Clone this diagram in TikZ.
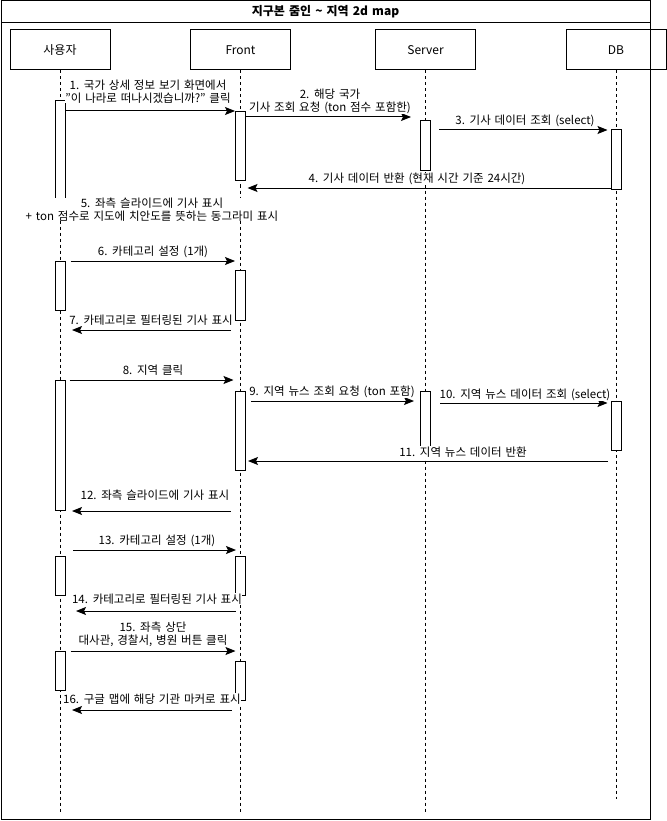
\documentclass[tikz,border=0pt]{standalone}
\usepackage{fontspec}
\setmainfont{Noto Sans CJK KR}[WordSpace=1.5]
\usetikzlibrary{arrows.meta}

\begin{document}
\begin{tikzpicture}[x=1pt, y=-1pt, line width=1pt,
        head/.style={draw, minimum width=100pt, minimum height=40pt, font=\fontsize{12}{14}\selectfont},
        bar/.style={draw, fill=white, minimum width=10pt, inner sep=0pt, anchor=north},
        life/.style={dash pattern=on 3pt off 3pt},
        msg/.style={-{Stealth[length=10pt, width=8pt, inset=2pt]}},
        txt/.style={fill=white, inner sep=0.5pt, align=center, font=\fontsize{11.5}{12.5}\selectfont}]
    \useasboundingbox (0,0) rectangle (666,821);
    % frame and title
    \draw (1,1) rectangle (650,819);
    \draw (1,23) -- (650,23);
    \node[font=\bfseries\fontsize{12}{14}\selectfont] (title) at (325.5,12) {지구본 줌인 \textasciitilde{} 지역 2d map};
    % participants
    \node[head] (user) at (60,50) {사용자};
    \node[head] (front) at (240.5,50) {Front};
    \node[head] (server) at (425.5,50) {Server};
    \node[head] (db) at (616,50) {DB};
    \draw[life] (user.south) -- (user |- 0,812);
    \draw[life] (front.south) -- (front |- 0,812);
    \draw[life] (server.south) -- (server |- 0,812);
    \draw[life] (db.south) -- (db |- 0,799);
    % activations
    \node[bar, minimum height=115pt] (u1) at (user |- 0,100) {};
    \node[bar, minimum height=69pt] (f1) at (front |- 0,111) {};
    \node[bar, minimum height=50pt] (s1) at (server |- 0,120) {};
    \node[bar, minimum height=60pt] (d1) at (db |- 0,129) {};
    \node[bar, minimum height=49pt] (u2) at (user |- 0,261) {};
    \node[bar, minimum height=50pt] (f2) at (front |- 0,270) {};
    \node[bar, minimum height=130pt] (u3) at (user |- 0,380) {};
    \node[bar, minimum height=79pt] (f3) at (front |- 0,391) {};
    \node[bar, minimum height=59pt] (s2) at (server |- 0,391) {};
    \node[bar, minimum height=49pt] (d2) at (db |- 0,401) {};
    \node[bar, minimum height=39pt] (u4) at (user |- 0,556) {};
    \node[bar, minimum height=39pt] (f4) at (front |- 0,556) {};
    \node[bar, minimum height=39pt] (u5) at (user |- 0,651) {};
    \node[bar, minimum height=39pt] (f5) at (front |- 0,661) {};
    % messages
    \draw[msg] (u1.east |- 0,111) -- (f1.west |- 0,111);
    \draw[msg] (f1.east |- 0,117) -- ([xshift=-9pt]s1.west |- 0,117);
    \draw[msg] ([xshift=8pt]s1.east |- 0,130) -- ([xshift=-3pt]d1.west |- 0,130);
    \draw[msg] (d1.west |- 0,188) -- ([xshift=7pt]front |- 0,188);
    \draw[msg] ([xshift=5pt]u2.east |- 0,261) -- (f2.west |- 0,261);
    \draw[msg] ([xshift=-10pt]front |- 0,330) -- ([xshift=12pt]user |- 0,330);
    \draw[msg] ([xshift=4pt]u3.east |- 0,380) -- ([xshift=-7pt]front |- 0,380);
    \draw[msg] ([xshift=5pt]f3.east |- 0,401) -- ([xshift=-6pt]s2.west |- 0,401);
    \draw[msg] ([xshift=9pt]s2.east |- 0,403) -- ([xshift=-3pt]d2.west |- 0,403);
    \draw[msg] ([xshift=-8pt]db |- 0,461) -- ([xshift=2pt]f3.east |- 0,461);
    \draw[msg] ([xshift=-10pt]front |- 0,511) -- ([xshift=12pt]user |- 0,511);
    \draw[msg] ([xshift=13pt]user |- 0,550) -- ([xshift=1pt]f4.west |- 0,550);
    \draw[msg] ([xshift=-5pt]front |- 0,611) -- ([xshift=16pt]user |- 0,611);
    \draw[msg] ([xshift=5pt]u5.east |- 0,651) -- ([xshift=-5pt]front |- 0,651);
    \draw[msg] ([xshift=-9pt]front |- 0,710) -- ([xshift=12pt]user |- 0,710);
    % labels
    \node[txt] (l1) at (148,91.5) {1. 국가 상세 정보 보기 화면에서\\"이 나라로 떠나시겠습니까?" 클릭};
    \node[txt] (l2) at (330,101.5) {2. 해당 국가\\기사 조회 요청 (ton 점수 포함한)};
    \node[txt] (l3) at (525,121) {3. 기사 데이터 조회 (select)};
    \node[txt] (l4) at (417,179) {4. 기사 데이터 반환 (현재 시간 기준 24시간)};
    \node[txt] (l5) at (152,209.5) {5. 좌측 슬라이드에 기사 표시\\+ ton 점수로 지도에 치안도를 뜻하는 동그라미 표시};
    \node[txt] (l6) at (153,252) {6. 카테고리 설정 (1개)};
    \node[txt] (l7) at (151,320) {7. 카테고리로 필터링된 기사 표시};
    \node[txt] (l8) at (153,370) {8. 지역 클릭};
    \node[txt] (l9) at (332,392) {9. 지역 뉴스 조회 요청 (ton 포함)};
    \node[txt] (l10) at (525,395) {10. 지역 뉴스 데이터 조회 (select)};
    \node[txt] (l11) at (463,452) {11. 지역 뉴스 데이터 반환};
    \node[txt] (l12) at (155,495) {12. 좌측 슬라이드에 기사 표시};
    \node[txt] (l13) at (157,541) {13. 카테고리 설정 (1개)};
    \node[txt] (l14) at (157,599) {14. 카테고리로 필터링된 기사 표시};
    \node[txt] (l15) at (153,634.5) {15. 좌측 상단\\대사관, 경찰서, 병원 버튼 클릭};
    \node[txt] (l16) at (152,699) {16. 구글 맵에 해당 기관 마커로 표시};
\end{tikzpicture}
\end{document}
